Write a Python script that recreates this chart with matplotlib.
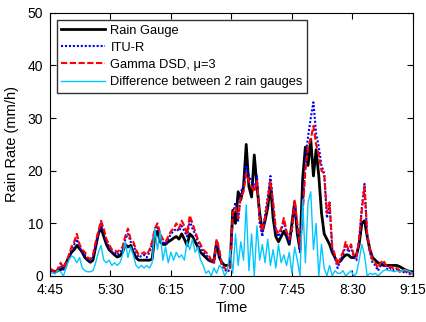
import numpy as np
import matplotlib
matplotlib.use('Agg')
import matplotlib.pyplot as plt

# minutes after 4:45, one reading every 2 min
t = np.arange(0, 272, 2)

gauge = [1.0, 1.0, 0.8, 1.0, 1.2, 1.5, 2.5, 3.5, 4.5, 5.0, 5.8, 5.2, 4.5, 3.5, 3.0, 2.6, 3.0, 5.5, 8.0, 9.2,
         7.5, 6.0, 5.0, 4.5, 4.0, 3.6, 3.8, 4.5, 6.0, 5.5, 5.8, 4.5, 3.5, 3.0, 3.0, 3.0, 3.0, 3.0, 3.2, 7.5,
         8.5, 6.5, 6.0, 6.0, 6.5, 6.8, 7.2, 7.5, 7.0, 8.0, 7.0, 5.8, 8.0, 7.5, 6.5, 5.5, 4.5, 4.0, 3.5, 3.0,
         2.8, 3.0, 6.5, 3.5, 2.5, 2.0, 2.0, 2.2, 12.5, 10.0, 16.0, 14.5, 17.0, 25.0, 17.0, 15.0, 23.0, 17.0, 12.0, 8.5,
         10.5, 13.0, 17.5, 11.0, 7.5, 6.5, 7.5, 8.5, 7.5, 6.0, 10.0, 14.0, 8.0, 5.0, 18.5, 24.5, 21.0, 26.0, 19.0, 24.0,
         19.0, 12.0, 8.0, 7.0, 6.0, 4.5, 3.5, 2.5, 2.8, 3.5, 4.0, 4.0, 3.5, 3.5, 4.0, 6.0, 10.0, 10.5, 7.5, 5.0,
         3.5, 3.0, 2.5, 2.3, 2.0, 2.0, 2.0, 2.0, 2.0, 2.0, 1.8, 1.5, 1.2, 1.0, 0.8, 0.8]

itu = [1.0, 0.8, 0.5, 1.2, 2.0, 1.2, 2.0, 3.5, 5.0, 6.0, 7.0, 5.5, 4.5, 4.0, 3.0, 2.8, 3.5, 6.0, 8.0, 10.0,
       8.5, 6.5, 5.5, 4.5, 4.5, 4.0, 4.5, 5.0, 7.0, 8.0, 6.5, 6.0, 4.5, 3.5, 3.8, 4.0, 3.5, 4.5, 6.0, 8.5,
       9.5, 7.5, 6.5, 6.0, 7.0, 8.0, 8.5, 9.0, 8.5, 9.5, 8.5, 7.5, 10.5, 9.0, 8.0, 6.5, 5.5, 4.5, 4.0, 3.5,
       2.8, 2.3, 6.5, 4.5, 1.8, 1.2, 0.8, 1.2, 11.5, 14.0, 10.5, 16.0, 17.0, 21.0, 19.0, 18.0, 16.5, 19.0, 10.0, 7.5,
       11.5, 15.0, 19.0, 13.5, 8.5, 7.5, 8.5, 10.5, 8.0, 6.5, 8.5, 14.0, 9.5, 4.5, 12.5, 22.0, 26.5, 30.0, 33.0, 27.0,
       24.5, 21.0, 19.5, 11.0, 13.5, 5.0, 3.5, 1.5, 3.0, 4.0, 6.0, 4.5, 5.5, 3.5, 3.0, 7.0, 13.0, 17.5, 7.5, 4.5,
       2.5, 2.0, 1.0, 2.0, 2.5, 1.5, 1.2, 1.5, 1.0, 1.2, 0.8, 1.0, 0.5, 0.8, 0.3, 0.3]

gamma = [1.5, 1.0, 0.5, 1.5, 2.5, 1.5, 2.5, 4.0, 5.5, 6.5, 8.0, 6.0, 5.0, 4.5, 3.5, 3.2, 4.0, 6.5, 8.5, 10.5,
         9.0, 7.0, 6.0, 5.0, 5.0, 4.5, 5.0, 5.5, 7.5, 9.0, 7.0, 6.5, 5.0, 4.0, 4.2, 4.5, 4.0, 5.0, 6.5, 9.0,
         10.0, 8.0, 7.0, 6.5, 7.5, 8.5, 9.0, 10.0, 9.0, 10.5, 9.5, 8.0, 11.5, 10.0, 8.5, 7.0, 6.0, 5.0, 4.5, 4.0,
         3.0, 2.5, 7.0, 5.0, 2.0, 1.5, 1.0, 1.5, 12.0, 13.0, 11.0, 15.0, 16.0, 19.5, 18.0, 17.0, 16.0, 18.0, 11.0, 8.5,
         11.0, 14.5, 18.0, 14.0, 9.0, 8.0, 9.0, 11.0, 8.5, 7.0, 9.0, 14.5, 10.0, 5.5, 12.0, 20.0, 24.5, 26.0, 28.5, 25.0,
         23.0, 20.0, 19.5, 12.0, 14.0, 5.5, 4.0, 2.0, 3.5, 4.5, 6.5, 5.0, 6.0, 4.0, 3.5, 7.0, 12.5, 17.0, 8.0, 5.0,
         3.0, 2.5, 1.5, 2.5, 3.0, 2.0, 1.5, 1.8, 1.2, 1.5, 1.0, 1.2, 0.8, 1.0, 0.5, 0.5]

diff = [0.8, 0.5, 0.5, 1.0, 0.8, 0.0, 1.5, 3.0, 3.8, 3.5, 2.5, 3.5, 1.5, 1.0, 0.8, 0.8, 1.0, 2.5, 4.5, 5.8,
        3.0, 2.5, 3.0, 2.0, 2.5, 2.0, 2.5, 4.0, 6.5, 3.5, 5.5, 4.0, 2.0, 1.5, 2.0, 1.5, 2.0, 1.5, 2.5, 9.0,
        5.0, 8.5, 3.0, 5.5, 2.5, 4.5, 3.0, 4.5, 3.5, 4.0, 3.0, 6.5, 5.0, 7.0, 4.5, 5.5, 3.0, 2.0, 0.5, 1.0,
        0.0, 1.5, 0.5, 2.0, 1.5, 0.0, 1.0, 5.0, 0.5, 8.0, 2.0, 6.5, 3.0, 13.5, 1.0, 8.0, 0.0, 9.5, 3.0, 6.0,
        2.5, 7.0, 2.0, 5.0, 1.5, 6.0, 2.5, 4.0, 2.0, 4.5, 0.5, 5.5, 3.0, 0.0, 14.5, 2.5, 14.0, 16.0, 5.0, 10.0,
        0.0, 6.0, 1.5, 0.0, 2.0, 0.0, 1.0, 0.5, 0.5, 1.0, 0.0, 0.5, 1.0, 0.0, 0.5, 3.0, 6.0, 4.0, 0.0, 0.5,
        0.3, 0.5, 0.0, 0.5, 1.0, 1.2, 1.0, 1.0, 0.8, 1.0, 0.8, 1.0, 1.2, 1.0, 0.8, 0.5]

tick_min = [0, 45, 90, 135, 180, 225, 270]
tick_lab = ['4:45', '5:30', '6:15', '7:00', '7:45', '8:30', '9:15']

plt.rcParams['font.family'] = ['Liberation Sans', 'DejaVu Sans']

fig = plt.figure(figsize=(4.27, 3.22), dpi=100)
ax = fig.add_axes([0.117, 0.143, 0.85, 0.817])

ax.plot(t, gauge, color='black', lw=2, label='Rain Gauge')
ax.plot(t, itu, color='blue', lw=1.5, ls=(0, (1, 0.9)), label='ITU-R')
ax.plot(t, gamma, color='red', lw=1.5, ls=(0, (3, 1.2)), label='Gamma DSD, μ=3')
ax.plot(t, diff, color='#00c8ff', lw=1, label='Difference between 2 rain gauges')

ax.set_xlim(0, 270)
ax.set_ylim(0, 50)
ax.set_xticks(tick_min)
ax.set_xticklabels(tick_lab)
ax.set_yticks([0, 10, 20, 30, 40, 50])
ax.tick_params(direction='in', top=True, right=True, labelsize=10, length=4)
ax.tick_params(axis='x', pad=5)
ax.tick_params(axis='y', pad=5)
ax.set_xlabel('Time', fontsize=10.5, labelpad=3)
ax.set_ylabel('Rain Rate (mm/h)', fontsize=10.5, labelpad=6)

leg = ax.legend(loc='upper left', bbox_to_anchor=(0.019, 0.973), fontsize=9.3, frameon=True,
                fancybox=False, edgecolor='black', handlelength=3.4, handletextpad=0.4,
                labelspacing=0.4, borderpad=0.35, borderaxespad=0)
leg.get_frame().set_linewidth(1)

plt.savefig('out.png', dpi=100)
